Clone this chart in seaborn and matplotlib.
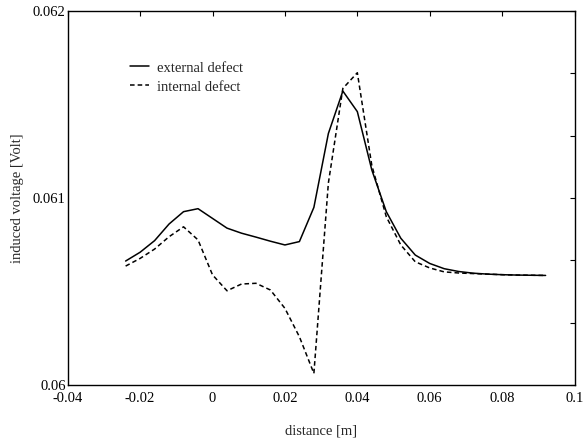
import numpy as np
import pandas as pd
import matplotlib
matplotlib.use("Agg")
import matplotlib.pyplot as plt
import seaborn as sns

# --- Data ---
distance = [-0.024, -0.020, -0.016, -0.012, -0.008, -0.004, 0.000, 0.004,
            0.008, 0.012, 0.016, 0.020, 0.024, 0.028, 0.032, 0.036,
            0.040, 0.044, 0.048, 0.052, 0.056, 0.060, 0.064, 0.068,
            0.072, 0.076, 0.080, 0.084, 0.088, 0.092]

external_defect = [0.060663, 0.060710, 0.060772, 0.060861, 0.060927, 0.060943, 0.060891, 0.060839,
                   0.060812, 0.060791, 0.060769, 0.060749, 0.060767, 0.060950, 0.061345, 0.061572,
                   0.061462, 0.061150, 0.060927, 0.060785, 0.060695, 0.060650, 0.060622, 0.060607,
                   0.060598, 0.060593, 0.060590, 0.060588, 0.060587, 0.060586]

internal_defect = [0.060636, 0.060677, 0.060727, 0.060793, 0.060846, 0.060776, 0.060589, 0.060504,
                   0.060540, 0.060544, 0.060508, 0.060410, 0.060258, 0.060062, 0.061080, 0.061586,
                   0.061670, 0.061174, 0.060900, 0.060749, 0.060659, 0.060626, 0.060605, 0.060599,
                   0.060596, 0.060593, 0.060590, 0.060588, 0.060587, 0.060586]

series_names = ["external defect", "internal defect"]
x_ticks = [-0.04, -0.02, 0, 0.02, 0.04, 0.06, 0.08, 0.1]
x_labels = ["-0.04", "-0.02", "0", "0.02", "0.04", "0.06", "0.08", "0.1"]

# --- Long-form table for seaborn ---
df = pd.concat([
    pd.DataFrame({"distance": distance, "voltage": external_defect, "defect": series_names[0]}),
    pd.DataFrame({"distance": distance, "voltage": internal_defect, "defect": series_names[1]}),
])

sns.set_style("white")
plt.rcParams["font.family"] = ["Liberation Serif", "DejaVu Serif"]
plt.rcParams["font.size"] = 10.5

fig = plt.figure(figsize=(5.86, 4.43), dpi=100)
ax = fig.add_axes([0.1155, 0.1309, 0.865, 0.8442])

sns.lineplot(data=df, x="distance", y="voltage", style="defect",
             dashes=["", (3, 2)], color="black", linewidth=1.1,
             sort=False, ax=ax)

ax.set_xlim(-0.04, 0.1)
ax.set_ylim(0.06, 0.062)
ax.set_xticks(x_ticks)
ax.set_xticklabels(x_labels)
# y ticks every third of a millivolt, only the whole ones labelled
y_ticks = [0.06 + i * 0.001 / 3 for i in range(7)]
ax.set_yticks(y_ticks)
ax.set_yticklabels(["0.06", "", "", "0.061", "", "", "0.062"])

for side in ax.spines.values():
    side.set_color("black")
    side.set_linewidth(1.0)
ax.tick_params(direction="in", length=3.5, width=0.8, top=True, right=True,
               colors="black", labelsize=10.5)
ax.tick_params(axis="x", pad=5)
ax.tick_params(axis="y", pad=1.5)

ax.set_xlabel("distance [m]", fontsize=10.5, labelpad=14)
ax.set_ylabel("induced voltage [Volt]", fontsize=10.5, labelpad=6)

leg = ax.legend(loc="upper left", bbox_to_anchor=(0.108, 0.885), frameon=False,
                handlelength=1.3, handletextpad=0.6, borderpad=0, labelspacing=0.4,
                fontsize=10.5, title=None)

fig.savefig("out.png", dpi=100)
